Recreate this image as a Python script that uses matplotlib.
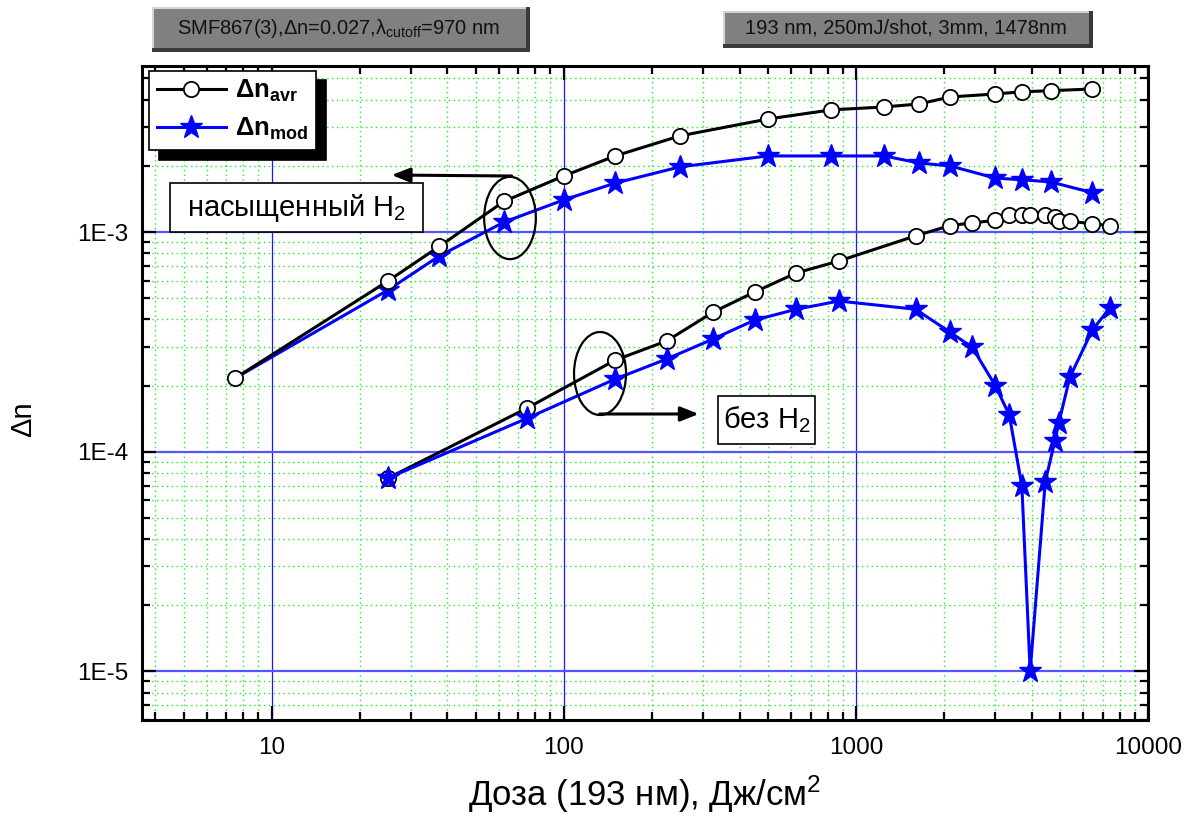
import matplotlib.pyplot as plt
from matplotlib import font_manager
from matplotlib.patches import Ellipse, Rectangle
from matplotlib.ticker import LogLocator, NullFormatter

# saturated with H2 (upper pair of curves)
dose_h2 = [7.5, 25, 37.5, 62.5, 100, 150, 250, 500, 825, 1250, 1650, 2100, 3000, 3700, 4650, 6450]
avr_h2 = [2.16e-4, 5.98e-4, 8.6e-4, 1.38e-3, 1.80e-3, 2.22e-3, 2.74e-3, 3.27e-3,
          3.6e-3, 3.71e-3, 3.83e-3, 4.12e-3, 4.25e-3, 4.35e-3, 4.4e-3, 4.48e-3]
mod_h2 = [2.16e-4, 5.44e-4, 7.78e-4, 1.11e-3, 1.40e-3, 1.67e-3, 1.98e-3, 2.22e-3,
          2.22e-3, 2.22e-3, 2.06e-3, 2.0e-3, 1.76e-3, 1.73e-3, 1.69e-3, 1.51e-3]

# without H2 (lower pair of curves)
dose_no = [25, 75, 150, 225, 325, 450, 625, 875, 1600, 2100, 2500, 3000, 3350, 3700,
           3950, 4450, 4800, 4950, 5400, 6450, 7400]
avr_no = [7.57e-5, 1.58e-4, 2.61e-4, 3.19e-4, 4.32e-4, 5.33e-4, 6.51e-4, 7.38e-4, 9.6e-4,
          1.07e-3, 1.10e-3, 1.13e-3, 1.19e-3, 1.2e-3, 1.2e-3, 1.2e-3, 1.17e-3, 1.12e-3,
          1.12e-3, 1.09e-3, 1.07e-3]
mod_no = [7.57e-5, 1.42e-4, 2.14e-4, 2.64e-4, 3.26e-4, 3.97e-4, 4.45e-4, 4.85e-4, 4.45e-4,
          3.5e-4, 2.99e-4, 2.0e-4, 1.47e-4, 7.0e-5, 1.0e-5, 7.3e-5, 1.12e-4, 1.35e-4,
          2.18e-4, 3.58e-4, 4.51e-4]

x_ticks = [10, 100, 1000, 10000]
x_labels = ['10', '100', '1000', '10000']
y_ticks = [1e-5, 1e-4, 1e-3]
y_labels = ['1E-5', '1E-4', '1E-3']

plt.rcParams['font.family'] = ['Liberation Sans', 'DejaVu Sans']
plt.rcParams['mathtext.fontset'] = 'custom'
plt.rcParams['mathtext.rm'] = 'Liberation Sans'
plt.rcParams['mathtext.it'] = 'Liberation Sans:italic'
plt.rcParams['mathtext.bf'] = 'Liberation Sans:bold'

names = {f.name for f in font_manager.fontManager.ttflist}
narrow = 'Liberation Sans Narrow' in names
label_font = ['Liberation Sans Narrow', 'Liberation Sans'] if narrow else ['Liberation Sans']
label_size = 28 if narrow else 25

W, H = 1187, 830
fig = plt.figure(figsize=(W / 100, H / 100), dpi=100)
ax = fig.add_axes([142 / W, 1 - 720 / H, 1006 / W, 654 / H])

# curves (first star of the upper curve is hidden under the circle in the original)
ax.plot(dose_h2, mod_h2, color='blue', lw=2.2, marker='*', ms=17, mfc='blue', mec='blue',
        markevery=slice(1, None), zorder=3)
l_avr, = ax.plot(dose_h2, avr_h2, color='black', lw=2.2, marker='o', ms=11,
                 mfc='white', mec='black', mew=1.3, zorder=4)
ax.plot(dose_no, avr_no, color='black', lw=2.2, marker='o', ms=11,
        mfc='white', mec='black', mew=1.3, zorder=3)
l_mod, = ax.plot(dose_no, mod_no, color='blue', lw=2.2, marker='*', ms=17,
                 mfc='blue', mec='blue', zorder=4)

ax.set_xscale('log')
ax.set_yscale('log')
ax.set_xlim(3.6, 10000)
ax.set_ylim(6e-6, 5.7e-3)

ax.set_xticks(x_ticks, labels=x_labels)
ax.set_yticks(y_ticks, labels=y_labels)
ax.xaxis.set_minor_locator(LogLocator(base=10, subs=range(2, 10), numticks=20))
ax.yaxis.set_minor_locator(LogLocator(base=10, subs=range(2, 10), numticks=20))
ax.xaxis.set_minor_formatter(NullFormatter())
ax.yaxis.set_minor_formatter(NullFormatter())

ax.set_axisbelow(True)
ax.xaxis.grid(True, which='major', color='#1a1aff', lw=0.9)
ax.yaxis.grid(True, which='major', color='#5555ff', lw=1.6)
ax.grid(True, which='minor', color='#22ee22', ls=(0, (1, 2.5)), lw=1.0)

ax.tick_params(which='both', direction='in', top=True, right=True, width=1.6,
               labelsize=17.5, color='black')
ax.tick_params(which='major', length=10)
ax.tick_params(which='minor', length=6)
ax.tick_params(axis='x', pad=12)
ax.tick_params(axis='y', pad=10)
for s in ax.spines.values():
    s.set_linewidth(2.2)

ax.set_xlabel('Доза (193 нм), Дж/см$^2$', family=label_font, fontsize=label_size, labelpad=11)
ax.set_ylabel('Δn', fontsize=21)
ax.yaxis.set_label_coords(-0.104, 0.46)

leg = ax.legend(handles=[l_avr, l_mod],
                labels=['Δn$_{\\mathbf{avr}}$', 'Δn$_{\\mathbf{mod}}$'],
                loc='upper left', bbox_to_anchor=(0.007, 0.993), borderaxespad=0,
                prop={'weight': 'bold', 'size': 18.5}, fancybox=False, edgecolor='black',
                framealpha=1, handlelength=2.7, handletextpad=0.35, borderpad=0.3,
                labelspacing=0.45,
                shadow={'ox': 7, 'oy': -7, 'facecolor': 'black', 'edgecolor': 'black', 'alpha': 1})
leg.get_frame().set_linewidth(1.2)
leg.set_zorder(10)

# annotations: boxes, ellipses, arrows
ax.add_patch(Rectangle((0.0278, 0.7462), 0.2515, 0.0749, transform=ax.transAxes,
                       fc='white', ec='black', lw=1.2, zorder=6, clip_on=False))
ax.text(0.1536, 0.7836, 'насыщенный H$_2$', transform=ax.transAxes, ha='center', va='center',
        fontsize=21, zorder=7)
ax.add_patch(Rectangle((0.5726, 0.422), 0.0964, 0.0739, transform=ax.transAxes,
                       fc='white', ec='black', lw=1.2, zorder=6))
ax.text(0.6208, 0.4587, 'без H$_2$', transform=ax.transAxes, ha='center', va='center',
        fontsize=21, zorder=7)

ax.add_patch(Ellipse((0.3658, 0.7676), 0.0514, 0.1258, transform=ax.transAxes,
                     fill=False, ec='black', lw=1.6, zorder=6))
ax.add_patch(Ellipse((0.4553, 0.5298), 0.0517, 0.1269, transform=ax.transAxes,
                     fill=False, ec='black', lw=1.6, zorder=6))
arrow = dict(arrowstyle='-|>,head_length=0.55,head_width=0.22', lw=2.2, color='black',
             mutation_scale=20, shrinkA=0, shrinkB=0)
ax.annotate('', xy=(0.2482, 0.8333), xytext=(0.3675, 0.8318), xycoords='axes fraction',
            arrowprops=arrow, zorder=6)
ax.annotate('', xy=(0.5534, 0.4679), xytext=(0.455, 0.4679), xycoords='axes fraction',
            arrowprops=arrow, zorder=6)


# grey bevelled header boxes (pixel coords of the picture)
def bevel_box(x0, y0, x1, y1, text):
    def rect(a, b, c, d, color):
        fig.patches.append(Rectangle((a / W, 1 - d / H), (c - a) / W, (d - b) / H,
                                     transform=fig.transFigure, fc=color, ec='none'))
    rect(x0, y0, x1, y1, '#3a3a3a')
    rect(x0, y0, x1 - 4, y1 - 4, '#d4d4d4')
    rect(x0 + 2, y0 + 2, x1 - 4, y1 - 4, '#808080')
    fig.text((x0 + x1 - 4) / 2 / W, 1 - (y0 + y1 - 2) / 2 / H, text, ha='center', va='center',
             fontsize=14.5, color='#111111')


bevel_box(152, 7, 530, 52, 'SMF867(3),Δn=0.027,λ$_{\\rm cutoff}$=970 nm')
bevel_box(723, 11, 1093, 48, '193 nm, 250mJ/shot, 3mm, 1478nm')

fig.savefig('out.png', dpi=100)
